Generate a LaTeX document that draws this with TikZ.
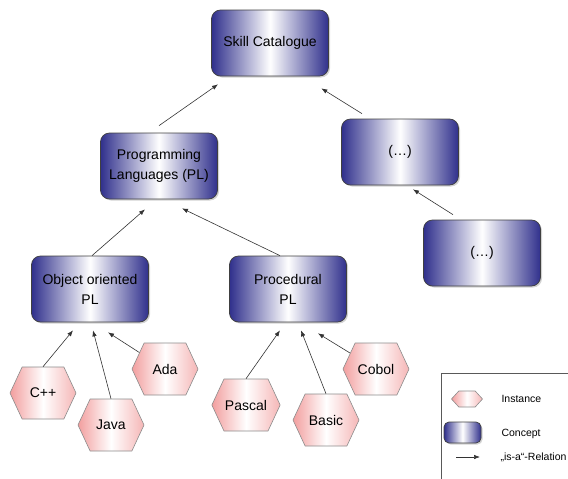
\documentclass[tikz,border=0pt]{standalone}
\usepackage{fontspec}
\setmainfont{Liberation Sans}
\usetikzlibrary{arrows.meta,shapes.symbols,shadows}

\definecolor{conceptblue}{RGB}{48,48,140}
\definecolor{instpink}{RGB}{242,158,158}

\begin{document}
\begin{tikzpicture}[
    x=1pt, y=-1pt, % pixel grid, y runs downwards
    >={Latex[length=6pt,width=4.5pt]},
    % styles
    conceptbox/.style={
        draw=black!75,
        line width=0.7pt,
        rounded corners=9pt,
        left color=conceptblue,
        right color=conceptblue,
        middle color=white, % after left/right, or it is reset
        minimum width=117pt,
        minimum height=66pt,
        align=center,
        font=\fontsize{14}{20}\selectfont,
        drop shadow={shadow xshift=1.5pt, shadow yshift=-1.5pt, opacity=0.35}
    },
    instancehex/.style={
        shape=signal,
        signal to=west and east,
        signal pointer angle=130,
        draw=black!45,
        line width=0.6pt,
        left color=instpink,
        right color=instpink!75!white,
        middle color=white,
        minimum width=66pt,
        minimum height=52pt,
        inner sep=1pt,
        font=\fontsize{14}{17}\selectfont
    },
    isa/.style={->, draw=black!80, line width=0.6pt},
    legendtext/.style={anchor=west, font=\fontsize{10.5}{13}\selectfont}
]
    \useasboundingbox (0,0) rectangle (568,479);
    \clip (0,0) rectangle (568,479);

    % --- 1. Concepts ---
    \node[conceptbox] (skill) at (270,43) {Skill Catalogue};
    \node[conceptbox] (pl) at (159,166) {Programming\\Languages (PL)};
    \node[conceptbox] (moreA) at (400,152) {(…)};
    \node[conceptbox] (moreB) at (482,253) {(…)};
    \node[conceptbox] (oo) at (90,289) {Object oriented\\PL};
    \node[conceptbox] (proc) at (288,289) {Procedural\\PL};

    % --- 2. Instances ---
    \node[instancehex] (cpp) at (43,393) {C++};
    \node[instancehex] (java) at (111,425) {Java};
    \node[instancehex] (ada) at (165,369) {Ada};
    \node[instancehex] (pascal) at (246,405) {Pascal};
    \node[instancehex] (basic) at (326,420) {Basic};
    \node[instancehex] (cobol) at (376,369) {Cobol};

    % --- 3. "is-a" relations ---
    \draw[isa] ([yshift=7pt]pl.north) -- ([xshift=-52pt,yshift=-8pt]skill.south);
    \draw[isa] ([xshift=-38pt,yshift=5pt]moreA.north) -- ([xshift=-7.5pt,yshift=-12pt]skill.south east);
    \draw[isa] ([xshift=-29pt,yshift=5pt]moreB.north) -- ([xshift=13pt,yshift=-4pt]moreA.south);
    \draw[isa] ([xshift=2pt]oo.north) -- ([xshift=-14pt,yshift=-10pt]pl.south);
    \draw[isa] ([xshift=-8pt]proc.north) -- ([xshift=23pt,yshift=-9pt]pl.south);

    \draw[isa] (cpp.north) -- ([xshift=-17pt,yshift=-8pt]oo.south);
    \draw[isa] (java.north) -- ([xshift=3pt,yshift=-8pt]oo.south);
    \draw[isa] (ada) -- ([xshift=18pt,yshift=-10pt]oo.south);
    \draw[isa] (pascal.north) -- ([xshift=-8pt,yshift=-8pt]proc.south);
    \draw[isa] (basic.north) -- ([xshift=13pt,yshift=-8pt]proc.south);
    \draw[isa] (cobol) -- ([xshift=30pt,yshift=-11pt]proc.south);

    % --- 4. Legend (runs off the page) ---
    \draw[black!65, line width=0.6pt] (441,373) rectangle (600,500);
    \node[instancehex, minimum width=31pt, minimum height=16pt, inner sep=0pt,
          signal pointer angle=95] (keyinst) at (467,399) {};
    \node[conceptbox, minimum width=37pt, minimum height=21pt, rounded corners=5pt] (keyconc) at (462.5,432.5) {};
    \coordinate (keyfrom) at (456,457);
    \coordinate (keyto) at (480,457);
    \draw[isa] (keyfrom) -- (keyto);
    \node[legendtext] (txtinst) at (498,399) {Instance};
    \node[legendtext] (txtconc) at (498,434) {Concept};
    \node[legendtext] (txtrel) at (497,457) {„is-a“-Relation};

\end{tikzpicture}
\end{document}
